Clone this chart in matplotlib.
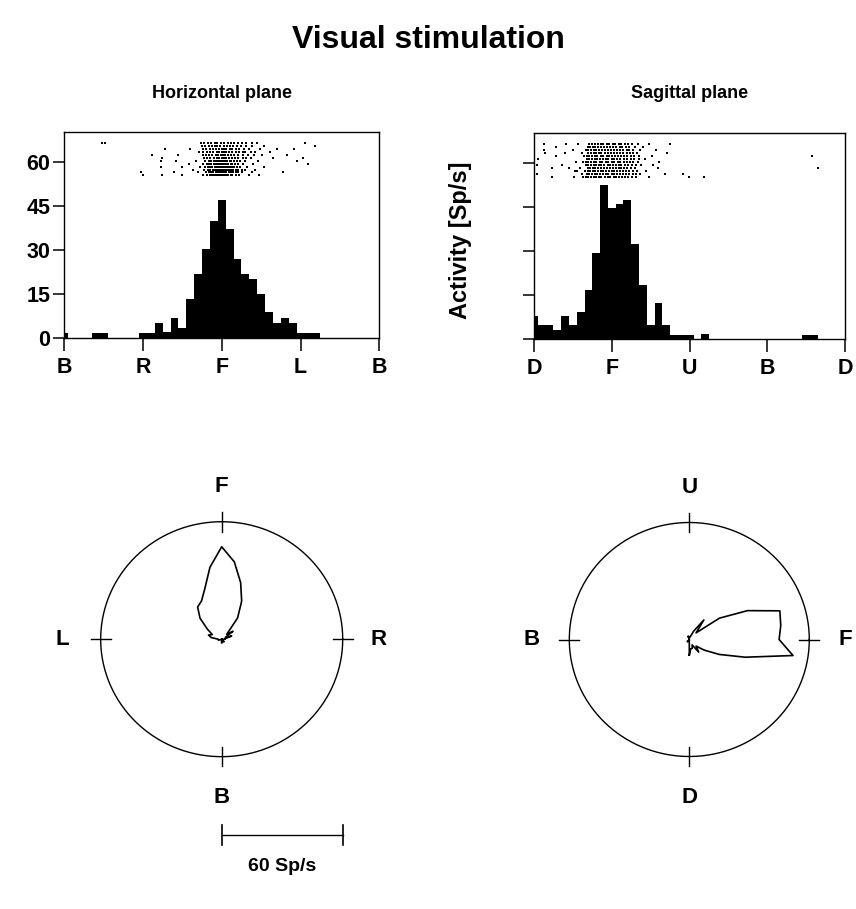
import numpy as np
import matplotlib
matplotlib.use('Agg')
import matplotlib.pyplot as plt

plt.rcParams['font.family'] = ['Liberation Sans', 'DejaVu Sans']
plt.rcParams['font.weight'] = 'bold'

# Histogram bins are 9 deg wide, centred on multiples of 9 deg
# Horizontal plane: B=-180, R=-90, F=0, L=90, B=180
h_angles = list(range(-180, 181, 9))
h_rates = [1.7, 0, 0, 0, 1.7, 1.7, 0, 0, 0, 0,
           1.7, 1.7, 5.2, 2.0, 6.9, 3.5, 13.4, 21.8, 30.4, 40.0,
           47.2, 37.2, 27.1, 22.0, 20.3, 15.2, 8.8, 5.2, 6.9, 5.2,
           1.7, 1.7, 1.7, 0, 0, 0, 0, 0, 0, 0, 0]
h_ticks = [-180, -90, 0, 90, 180]
h_ticklabels = ['B', 'R', 'F', 'L', 'B']

# Sagittal plane: D=0, F=90, U=180, B=270, D=360
s_angles = list(range(0, 361, 9))
s_rates = [8.0, 4.8, 4.8, 3.1, 8.0, 4.8, 9.3, 16.9, 29.4, 52.5,
           44.9, 46.3, 47.6, 32.6, 18.6, 4.8, 12.4, 4.8, 1.4, 1.4,
           1.4, 0, 1.7, 0, 0, 0, 0, 0, 0, 0,
           0, 0, 0, 0, 0, 1.5, 1.5, 0, 0, 0, 0]
s_ticks = [0, 90, 180, 270, 360]
s_ticklabels = ['D', 'F', 'U', 'B', 'D']

y_ticks = [0, 15, 30, 45, 60]

# Spike rasters: one row per sweep, angles at which a spike occurred
raster_rows = [66.5, 65.5, 64.5, 63.5, 62.5, 61.5, 60.5, 59.5, 58.5, 57.5, 56.5, 55.5]
h_raster = [
    [-137, -134, -24, -20, -16, -12, -8, -5, -1, 3, 7, 10, 14, 18, 23, 28, 34, 40, 95],
    [-23, -19, -15, -11, -8, -5, -2, 2, 6, 9, 13, 17, 22, 28, 35, 48, 106],
    [-65, -36, -21, -18, -14, -10, -7, -3, 0, 2, 5, 9, 12, 16, 20, 25, 31, 44, 63, 82],
    [-26, -21, -17, -14, -10, -6, -3, 0, 3, 5, 8, 12, 16, 20, 24, 27, 33, 38, 55],
    [-80, -50, -22, -18, -15, -11, -7, -4, -1, 1, 4, 7, 10, 14, 19, 24, 30, 37, 46, 74],
    [-68, -20, -17, -13, -9, -6, -3, 0, 3, 5, 8, 12, 15, 19, 24, 28, 33, 58, 93],
    [-69, -52, -29, -19, -15, -12, -9, -7, -4, -2, 0, 2, 4, 6, 9, 11, 14, 17, 21, 26, 41, 86],
    [-38, -21, -17, -15, -12, -9, -7, -5, -3, -1, 1, 3, 5, 7, 10, 12, 15, 18, 24, 36, 98],
    [-69, -45, -25, -19, -16, -13, -11, -8, -6, -4, -2, 0, 1, 3, 5, 7, 9, 12, 14, 17, 21, 29, 48],
    [-33, -20, -16, -13, -10, -8, -6, -4, -2, 0, 2, 4, 6, 8, 10, 13, 16, 19, 23, 27, 38],
    [-92, -55, -27, -18, -15, -12, -10, -7, -5, -3, -1, 1, 3, 5, 8, 10, 13, 16, 19, 23, 34, 70],
    [-90, -68, -46, -22, -17, -14, -11, -9, -7, -5, -3, -1, 1, 3, 5, 7, 10, 12, 16, 20, 31, 42],
]
s_raster = [
    [12, 37, 51, 64, 67, 70, 74, 77, 80, 84, 87, 91, 94, 98, 101, 105, 109, 113, 120, 133, 157],
    [26, 62, 65, 68, 71, 74, 78, 81, 84, 88, 91, 95, 99, 102, 106, 110, 117, 126],
    [12, 45, 60, 63, 66, 69, 72, 75, 79, 82, 86, 89, 93, 96, 100, 103, 107, 110, 114, 123, 141],
    [13, 36, 55, 63, 66, 69, 72, 75, 78, 82, 85, 89, 92, 96, 99, 103, 107, 111, 115, 119, 154],
    [26, 58, 61, 64, 67, 70, 73, 77, 80, 84, 87, 90, 94, 97, 101, 104, 108, 112, 116, 121, 137, 321],
    [5, 61, 64, 67, 70, 73, 76, 80, 83, 86, 90, 93, 96, 100, 104, 108, 112, 116, 122, 128],
    [48, 57, 60, 63, 66, 69, 72, 76, 79, 83, 86, 90, 93, 97, 100, 104, 107, 111, 115, 120, 145],
    [3, 32, 60, 63, 66, 69, 72, 75, 78, 81, 85, 88, 91, 95, 98, 101, 105, 109, 113, 118, 124, 138],
    [21, 40, 53, 62, 65, 68, 71, 74, 77, 81, 84, 88, 91, 95, 98, 101, 104, 108, 112, 117, 143, 328],
    [47, 50, 59, 62, 65, 68, 71, 74, 77, 80, 83, 87, 90, 93, 96, 100, 103, 106, 110, 114, 119, 129],
    [4, 56, 61, 64, 67, 70, 73, 76, 80, 83, 86, 90, 93, 96, 99, 103, 106, 110, 114, 118, 123, 152, 172],
    [21, 46, 57, 60, 63, 66, 69, 72, 75, 78, 82, 85, 88, 92, 95, 98, 102, 105, 109, 113, 118, 133, 179, 197],
]

W, H = 856, 909
fig = plt.figure(figsize=(W / 100, H / 100), dpi=100)


def px_axes(left, right, top, bottom):
    # axes placed by pixel box (origin at top left of the image)
    return fig.add_axes([left / W, 1 - bottom / H, (right - left) / W, (bottom - top) / H])


def draw_hist(box, angles, rates, raster, xlim, ticks, ticklabels, show_ylabels):
    ax = px_axes(*box)
    ax.bar(angles, rates, width=9, color='black', linewidth=0)
    for row, spikes in zip(raster_rows, raster):
        ax.scatter(spikes, [row] * len(spikes), marker='s', s=3.4, color='black', linewidths=0)
    ax.set_xlim(*xlim)
    ax.set_ylim(0, 70.3)
    ax.set_xticks(ticks)
    ax.set_xticklabels(ticklabels)
    ax.set_yticks(y_ticks)
    if not show_ylabels:
        ax.set_yticklabels([])
    ax.tick_params(axis='x', direction='out', length=9.5, width=1.1, labelsize=15.5, pad=4)
    ax.tick_params(axis='y', direction='out', length=8, width=1.1, labelsize=15.5, pad=2)
    for sp in ax.spines.values():
        sp.set_linewidth(1.0)
    return ax


def draw_polar(center, scale, box, angles, rates, plane, labels):
    # plane decides how the histogram angle turns into a screen direction
    cx, cy = center
    sx, sy = scale
    left, right, top, bottom = box
    ax = px_axes(left, right, top, bottom)
    ax.set_xlim((left - cx) / sx, (right - cx) / sx)
    ax.set_ylim((cy - bottom) / sy, (cy - top) / sy)
    ax.axis('off')

    t = np.linspace(0, 2 * np.pi, 400)
    ax.plot(60 * np.cos(t), 60 * np.sin(t), color='black', lw=1.0)
    # little crosses on the circle
    ax.plot([0, 0], [55, 65], color='black', lw=1.0)
    ax.plot([0, 0], [-55, -65], color='black', lw=1.0)
    ax.plot([55, 65], [0, 0], color='black', lw=1.0)
    ax.plot([-55, -65], [0, 0], color='black', lw=1.0)

    # drop the duplicated end bin and close the curve
    th = np.radians(np.array(angles[:-1] + angles[:1], dtype=float))
    r = np.array(rates[:-1] + rates[:1])
    if plane == 'horizontal':
        x, y = -r * np.sin(th), r * np.cos(th)
    else:
        x, y = r * np.sin(th), -r * np.cos(th)
    ax.plot(x, y, color='black', lw=1.2)

    top_l, left_l, right_l, bottom_l = labels
    ax.text(0, 78, top_l, ha='center', va='center', fontsize=16)
    ax.text(0, -81, bottom_l, ha='center', va='center', fontsize=16)
    ax.text(-79, 0, left_l, ha='center', va='center', fontsize=16)
    ax.text(78, 0, right_l, ha='center', va='center', fontsize=16)
    return ax


# Top row: histograms with rasters
ax1 = draw_hist((64.3, 379.3, 132, 338.3), h_angles, h_rates, h_raster,
                (-180, 180), h_ticks, h_ticklabels, True)
ax2 = draw_hist((534, 845.3, 133.3, 339), s_angles, s_rates, s_raster,
                (0, 360), s_ticks, s_ticklabels, False)
ax2.set_ylabel('Activity [Sp/s]', fontsize=17, fontweight='bold')
ax2.yaxis.set_label_coords(-0.2, 0.48)

# Bottom row: polar plots
axp1 = draw_polar((221.7, 639.2), (2.017, 1.958), (20, 420, 460, 909),
                  h_angles, h_rates, 'horizontal', ('F', 'L', 'R', 'B'))
axp2 = draw_polar((689.3, 639.5), (2.0, 1.95), (480, 856, 460, 909),
                  s_angles, s_rates, 'sagittal', ('U', 'B', 'F', 'D'))

# Scale bar: 60 Sp/s
bar_y = (639.2 - 835) / 1.958
axp1.plot([0, 60], [bar_y, bar_y], color='black', lw=1.0)
axp1.plot([0, 0], [bar_y - 5, bar_y + 5], color='black', lw=1.2)
axp1.plot([60, 60], [bar_y - 5, bar_y + 5], color='black', lw=1.2)
axp1.text(30, bar_y - 12, '60 Sp/s', ha='center', va='top', fontsize=14)

fig.text(0.5, 1 - 48 / H, 'Visual stimulation', ha='center', va='baseline', fontsize=23)
fig.text(222 / W, 1 - 93 / H, 'Horizontal plane', ha='center', va='center', fontsize=13)
fig.text(690 / W, 1 - 93 / H, 'Sagittal plane', ha='center', va='center', fontsize=13)

fig.savefig('out.png', dpi=100)
